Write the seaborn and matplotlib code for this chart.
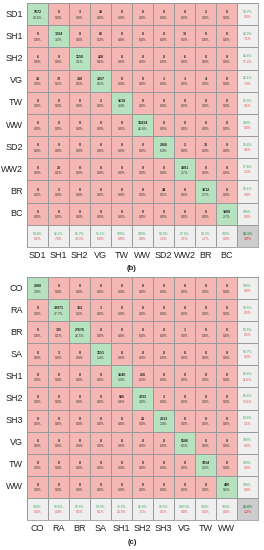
import numpy as np
import pandas as pd
import seaborn as sns
import matplotlib
matplotlib.use("Agg")
import matplotlib.pyplot as plt
from matplotlib.colors import ListedColormap

# ---------------- data ----------------
classes_b = ["SD1", "SH1", "SH2", "VG", "TW", "WW", "SD2", "WW2", "BR", "BC"]
counts_b = [
    [7672, 0, 3, 16, 0, 0, 0, 0, 2, 0],
    [0, 1234, 0, 82, 0, 0, 0, 12, 0, 0],
    [6, 0, 1158, 228, 0, 0, 0, 6, 0, 0],
    [13, 79, 190, 3357, 0, 0, 1, 1, 4, 0],
    [0, 0, 0, 2, 1618, 0, 0, 0, 0, 0],
    [0, 0, 0, 0, 0, 15834, 0, 0, 0, 0],
    [0, 0, 0, 0, 0, 0, 2366, 2, 12, 0],
    [0, 23, 0, 0, 0, 0, 0, 1001, 0, 0],
    [0, 2, 0, 0, 0, 0, 34, 0, 1012, 0],
    [0, 0, 0, 0, 0, 0, 0, 0, 0, 1000],
]

classes_c = ["CO", "RA", "BR", "SA", "SH1", "SH2", "SH3", "VG", "TW", "WW"]
counts_c = [
    [2380, 0, 0, 0, 0, 0, 0, 0, 0, 0],
    [0, 32071, 152, 1, 0, 0, 0, 0, 0, 0],
    [0, 125, 27676, 0, 0, 0, 0, 1, 0, 0],
    [0, 3, 0, 1151, 0, 0, 0, 0, 0, 0],
    [0, 0, 0, 0, 1640, 216, 0, 0, 0, 0],
    [0, 0, 0, 0, 505, 3233, 3, 0, 0, 0],
    [0, 0, 0, 0, 0, 30, 2013, 0, 0, 0],
    [0, 0, 0, 0, 0, 0, 0, 5506, 0, 0],
    [0, 0, 0, 0, 0, 0, 0, 0, 7834, 0],
    [0, 0, 0, 0, 0, 0, 0, 0, 0, 490],
]

panel_labels = ["(b)", "(c)"]

# ---------------- style ----------------
RED = "#f4b7b4"
GREEN = "#b6e2c0"
GREY = "#efefef"
DGREY = "#cdcdcd"
TXT_G = "#3aa655"
TXT_R = "#e0504c"
LINE = "#9a9a9a"
FONT = "Liberation Sans"

W, H = 264, 550
fig = plt.figure(figsize=(W / 100, H / 100), dpi=100)
fig.patch.set_facecolor("white")


def fmt_pct(v):
    if abs(v - 100) < 1e-9:
        return "100%"
    return f"{v:.1f}%"


def draw_cm(classes, counts, rect, label, label_y):
    cm = np.array(counts, dtype=float)
    n = len(classes)
    total = cm.sum()
    cat = np.zeros((n + 1, n + 1))
    for i in range(n):
        cat[i, i] = 1
    cat[n, :] = 2
    cat[:, n] = 2
    cat[n, n] = 3
    ax = fig.add_axes(rect)
    sns.heatmap(pd.DataFrame(cat), ax=ax, cmap=ListedColormap([RED, GREEN, GREY, DGREY]),
                vmin=-0.5, vmax=3.5, cbar=False, linewidths=0.6, linecolor=LINE,
                square=False)
    # cell annotations
    for i in range(n):
        for j in range(n):
            c = cm[i, j]
            ax.text(j + 0.5, i + 0.42, f"{int(c)}", ha="center", va="center",
                    fontsize=2.6, fontweight="bold", color="#222222", family=FONT)
            ax.text(j + 0.5, i + 0.66, f"{c / total * 100:.1f}%", ha="center", va="center",
                    fontsize=2.4, color="#333333", family=FONT)
    # row summary (right column)
    for i in range(n):
        acc = cm[i, i] / cm[i].sum() * 100
        ax.text(n + 0.5, i + 0.4, fmt_pct(acc), ha="center", va="center",
                fontsize=2.4, color=TXT_G, family=FONT)
        ax.text(n + 0.5, i + 0.64, fmt_pct(100 - acc) if acc < 100 else "0.0%",
                ha="center", va="center", fontsize=2.4, color=TXT_R, family=FONT)
    # column summary (bottom row)
    for j in range(n):
        acc = cm[j, j] / cm[:, j].sum() * 100
        ax.text(j + 0.5, n + 0.4, fmt_pct(acc), ha="center", va="center",
                fontsize=2.4, color=TXT_G, family=FONT)
        ax.text(j + 0.5, n + 0.64, fmt_pct(100 - acc) if acc < 100 else "0.0%",
                ha="center", va="center", fontsize=2.4, color=TXT_R, family=FONT)
    acc = np.trace(cm) / total * 100
    ax.text(n + 0.5, n + 0.4, fmt_pct(acc), ha="center", va="center",
            fontsize=2.5, fontweight="bold", color="#2e8b45", family=FONT)
    ax.text(n + 0.5, n + 0.64, fmt_pct(100 - acc), ha="center", va="center",
            fontsize=2.5, fontweight="bold", color=TXT_R, family=FONT)

    ax.set_xticks(np.arange(n) + 0.5)
    ax.set_xticklabels(classes, rotation=0, fontsize=6.5, family=FONT, color="#222222")
    ax.set_yticks(np.arange(n) + 0.5)
    ax.set_yticklabels(classes, rotation=0, fontsize=6.5, family=FONT, color="#222222")
    ax.tick_params(length=0, pad=3)
    ax.set_xlabel("")
    ax.set_ylabel("")
    for s in ax.spines.values():
        s.set_visible(True)
        s.set_color(LINE)
        s.set_linewidth(0.6)
    fig.text(0.5, 1 - label_y / H, label, ha="center", va="center", fontsize=5.5,
             fontweight="bold", family=FONT, color="#222222")
    return ax


left = 27 / W
width = (258 - 27) / W
draw_cm(classes_b, counts_b, [left, 1 - 247 / H, width, 244 / H], panel_labels[0], 268)
draw_cm(classes_c, counts_c, [left, 1 - 520 / H, width, 243 / H], panel_labels[1], 543)

fig.savefig("out.png", dpi=100, facecolor="white")
